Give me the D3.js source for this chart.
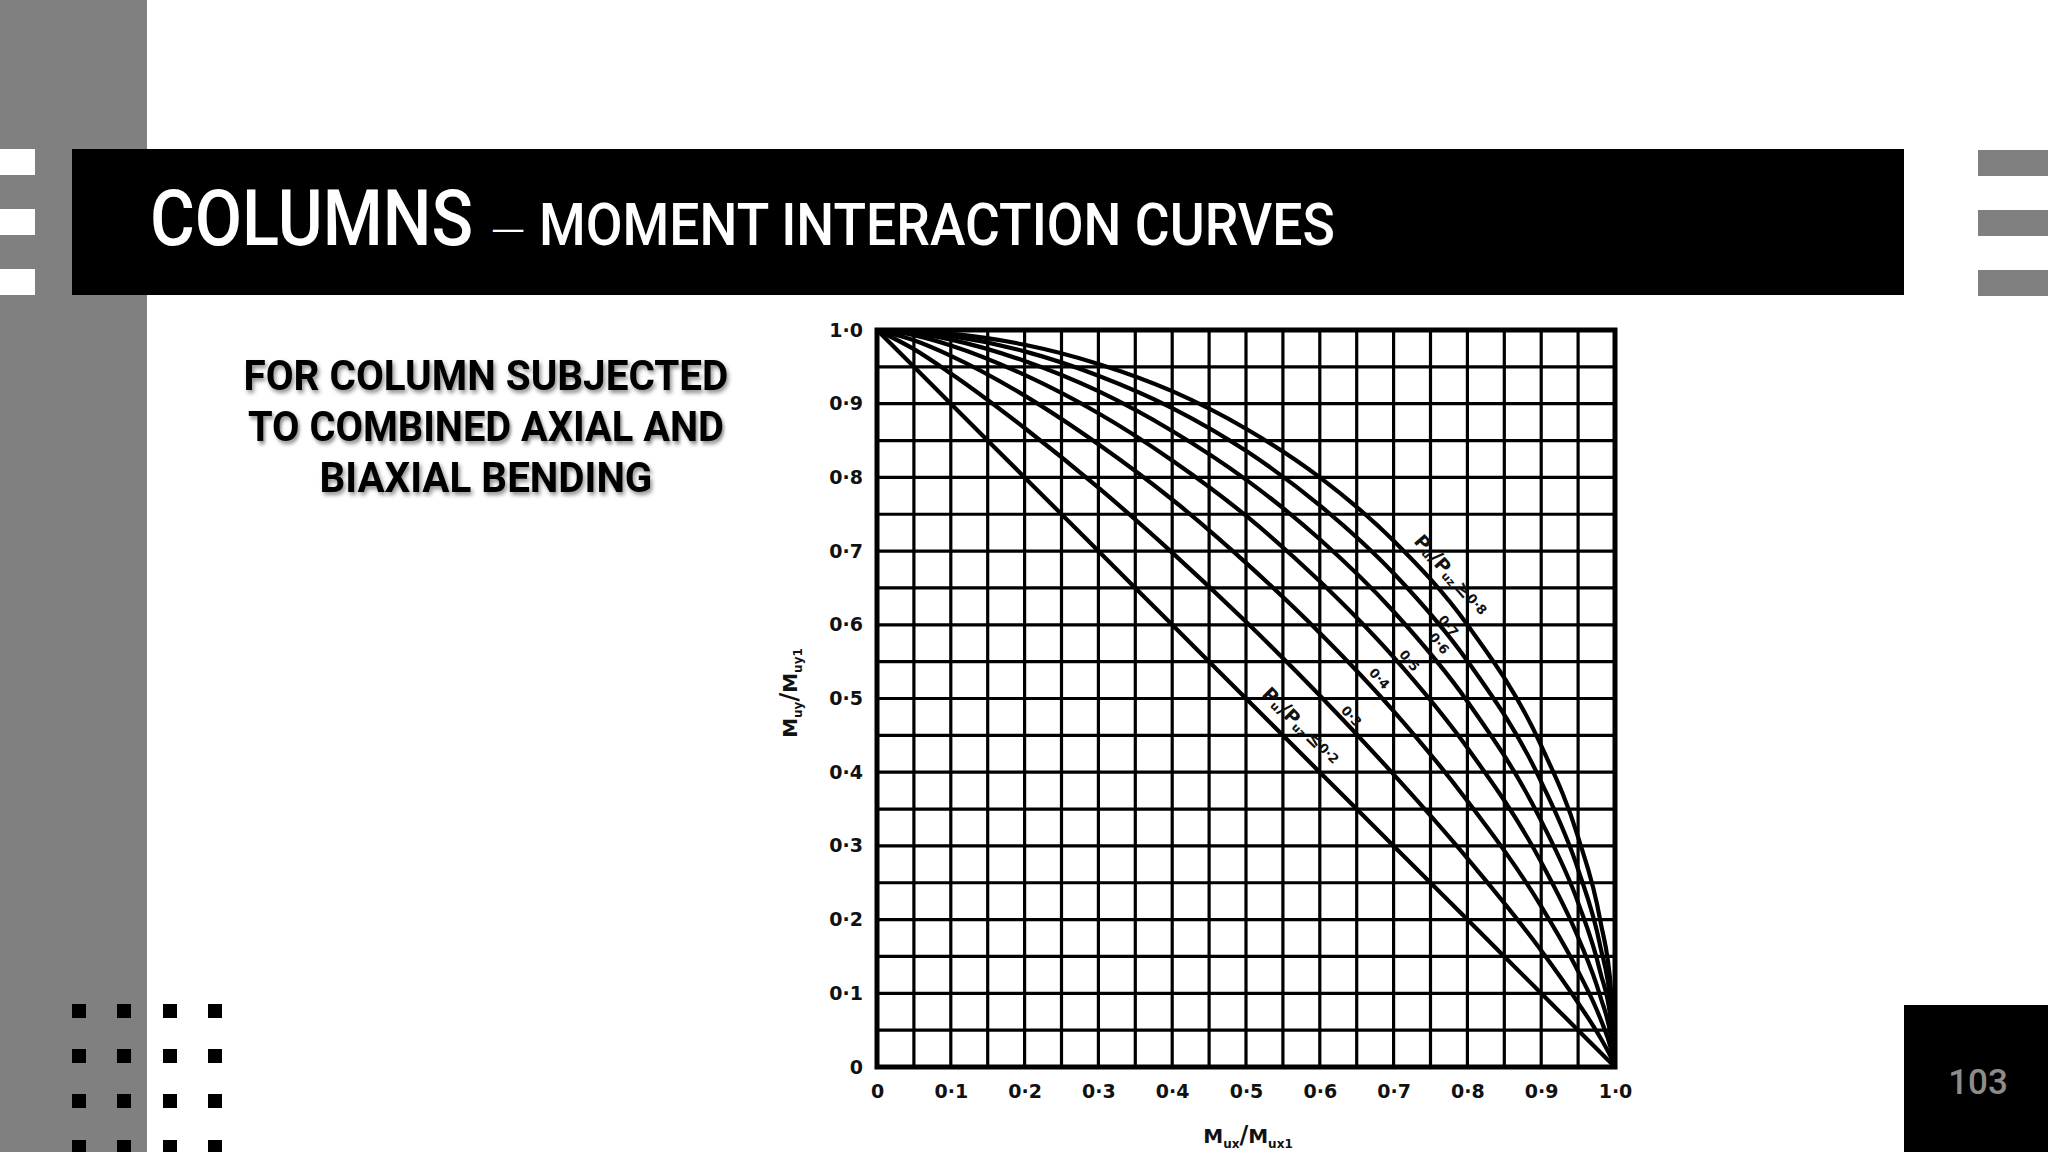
<!DOCTYPE html>
<html><head><meta charset="utf-8">
<script src="https://cdn.jsdelivr.net/npm/d3@7"></script>
<style>html,body{margin:0;padding:0;background:#fff;overflow:hidden}</style>
</head><body>
<svg id="c" width="2048" height="1152"></svg>
<script>
// ---------- data ----------
const tickValues = [0, 0.1, 0.2, 0.3, 0.4, 0.5, 0.6, 0.7, 0.8, 0.9, 1.0];
const xTickLabels = ["0", "0·1", "0·2", "0·3", "0·4", "0·5", "0·6", "0·7", "0·8", "0·9", "1·0"];
const yTickLabels = ["0", "0·1", "0·2", "0·3", "0·4", "0·5", "0·6", "0·7", "0·8", "0·9", "1·0"];
// Mux/Mux1 sample positions
const mxValues = [0, 0.05, 0.1, 0.2, 0.3, 0.4, 0.5, 0.6, 0.7, 0.8, 0.9, 0.95, 0.98, 0.995, 1];
// Muy/Muy1
const curveP02 = [1, 0.95, 0.9, 0.8, 0.7, 0.6, 0.5, 0.4, 0.3, 0.2, 0.1, 0.05, 0.02, 0.005, 0];
const curveP03 = [1, 0.974, 0.941, 0.867, 0.786, 0.698, 0.604, 0.504, 0.397, 0.283, 0.158, 0.087, 0.040, 0.012, 0];
const curveP04 = [1, 0.986, 0.965, 0.911, 0.845, 0.770, 0.684, 0.589, 0.483, 0.361, 0.218, 0.130, 0.066, 0.023, 0];
const curveP05 = [1, 0.993, 0.979, 0.939, 0.887, 0.823, 0.748, 0.659, 0.556, 0.433, 0.278, 0.176, 0.096, 0.038, 0];
const curveP06 = [1, 0.996, 0.987, 0.958, 0.917, 0.863, 0.797, 0.716, 0.618, 0.496, 0.334, 0.223, 0.129, 0.057, 0];
const curveP07 = [1, 0.998, 0.992, 0.971, 0.938, 0.894, 0.836, 0.762, 0.670, 0.551, 0.387, 0.268, 0.164, 0.077, 0];
const curveP08 = [1, 0.999, 0.995, 0.980, 0.954, 0.917, 0.866, 0.800, 0.714, 0.600, 0.436, 0.312, 0.199, 0.100, 0];
const curves = [curveP02, curveP03, curveP04, curveP05, curveP06, curveP07, curveP08];
const curveLabels = ["≤0·2", "0·3", "0·4", "0·5", "0·6", "0·7", "≥0·8"];
const labelAtMx = [0.556, 0.634, 0.669, 0.711, 0.746, 0.766, 0.757];

// ---------- styles / layout ----------
const labelOffset = [20, 9, 12, 10, 15, 8, 21];
const W = 2048, H = 1152;
const plot = {left: 877, right: 1615, top: 330, bottom: 1067};

const svg = d3.select("#c");
const defs = svg.append("defs");
const f = defs.append("filter").attr("id", "sh").attr("x", "-10%").attr("y", "-30%").attr("width", "130%").attr("height", "170%");
f.append("feDropShadow").attr("dx", 2).attr("dy", 3).attr("stdDeviation", 2)
  .attr("flood-color", "#000").attr("flood-opacity", 0.45);

svg.append("rect").attr("x", 0).attr("y", 0).attr("width", W).attr("height", H).attr("fill", "#fff");
// left grey band
svg.append("rect").attr("x", 0).attr("y", 0).attr("width", 147).attr("height", H).attr("fill", "#808080");
// title bar
svg.append("rect").attr("x", 72).attr("y", 149).attr("width", 1832).attr("height", 146).attr("fill", "#000");
// white tabs on left
[149, 209, 269].forEach(y => svg.append("rect").attr("x", 0).attr("y", y).attr("width", 35).attr("height", 26).attr("fill", "#fff"));
// grey tabs on right
[150, 210, 270].forEach(y => svg.append("rect").attr("x", 1978).attr("y", y).attr("width", 70).attr("height", 26).attr("fill", "#808080"));

// text fitted to a width by horizontal scaling
function fitText(str, opts) {
  const t = svg.append("text").attr("x", 0).attr("y", 0)
    .attr("font-family", opts.family).attr("font-weight", opts.weight)
    .attr("font-size", opts.size).attr("fill", opts.fill).text(str);
  if (opts.filter) t.attr("filter", opts.filter);
  const natural = t.node().getComputedTextLength();
  const s = opts.width / natural;
  const left = opts.anchor === "middle" ? opts.x - opts.width / 2 : opts.x;
  t.attr("transform", `translate(${left},${opts.y}) scale(${s},1)`);
  return t;
}

// title
fitText("COLUMNS", {family: "Roboto, sans-serif", weight: 500, size: 78, fill: "#fff", x: 150, y: 245, width: 323});
fitText("—", {family: "Roboto, sans-serif", weight: 300, size: 42, fill: "#fff", x: 490, y: 246, width: 36});
fitText("MOMENT INTERACTION CURVES", {family: "Roboto, sans-serif", weight: 500, size: 59, fill: "#fff", x: 539, y: 245, width: 796});

// left side text
const sideLines = ["FOR COLUMN SUBJECTED", "TO COMBINED AXIAL AND", "BIAXIAL BENDING"];
const sideLen = [485, 476, 333];
const sideY = [390, 441, 492];
sideLines.forEach((t, i) => {
  fitText(t, {family: "Roboto, sans-serif", weight: 700, size: 43, fill: "#000", x: 486, y: sideY[i],
    width: sideLen[i], anchor: "middle", filter: "url(#sh)"});
});

// dots
[79, 124, 170, 215].forEach(cx => [1011, 1056, 1101, 1147].forEach(cy =>
  svg.append("rect").attr("x", cx - 7).attr("y", cy - 7).attr("width", 14).attr("height", 14).attr("fill", "#000")));

// page number box
svg.append("rect").attr("x", 1904).attr("y", 1005).attr("width", 144).attr("height", 147).attr("fill", "#000");
svg.append("text").attr("x", 1978).attr("y", 1094).attr("text-anchor", "middle")
  .attr("font-family", "Roboto, sans-serif").attr("font-weight", 500).attr("font-size", 35)
  .attr("fill", "#8c8c8c").text("103");

// ---------- chart ----------
const x = d3.scaleLinear().domain([0, 1]).range([plot.left, plot.right]);
const y = d3.scaleLinear().domain([0, 1]).range([plot.bottom, plot.top]);
const g = svg.append("g");

// grid lines
g.selectAll("line.vx").data(x.ticks(20)).join("line")
  .attr("x1", d => x(d)).attr("x2", d => x(d)).attr("y1", plot.top).attr("y2", plot.bottom)
  .attr("stroke", "#000").attr("stroke-width", 3.2);
g.selectAll("line.hy").data(y.ticks(20)).join("line")
  .attr("y1", d => y(d)).attr("y2", d => y(d)).attr("x1", plot.left).attr("x2", plot.right)
  .attr("stroke", "#000").attr("stroke-width", 3.2);
g.append("rect").attr("x", plot.left).attr("y", plot.top)
  .attr("width", plot.right - plot.left).attr("height", plot.bottom - plot.top)
  .attr("fill", "none").attr("stroke", "#000").attr("stroke-width", 5);

// axes tick labels
const xAxis = d3.axisBottom(x).tickValues(tickValues).tickFormat((d, i) => xTickLabels[i]).tickSize(0).tickPadding(18);
const xa = g.append("g").attr("transform", `translate(0,${plot.bottom})`).call(xAxis);
const yAxis = d3.axisLeft(y).tickValues(tickValues).tickFormat((d, i) => yTickLabels[i]).tickSize(0).tickPadding(14);
const ya = g.append("g").attr("transform", `translate(${plot.left},0)`).call(yAxis);
[xa, ya].forEach(a => {
  a.select(".domain").remove();
  a.selectAll("text").attr("font-family", "'DejaVu Sans', 'Liberation Sans', sans-serif")
    .attr("font-weight", 700).attr("font-size", 19).attr("fill", "#111");
});

// curves
const line = d3.line().x((d, i) => x(mxValues[i])).y(d => y(d)).curve(d3.curveMonotoneX);
g.selectAll("path.curve").data(curves).join("path").attr("class", "curve")
  .attr("d", d => line(d)).attr("fill", "none").attr("stroke", "#000")
  .attr("stroke-width", 4.2).attr("stroke-linejoin", "round");

// curve labels
function interp(arr, xv) {
  for (let i = 1; i < mxValues.length; i++) {
    if (xv <= mxValues[i]) {
      const t = (xv - mxValues[i - 1]) / (mxValues[i] - mxValues[i - 1]);
      return arr[i - 1] + t * (arr[i] - arr[i - 1]);
    }
  }
  return arr[arr.length - 1];
}
curves.forEach((c, i) => {
  const xv = labelAtMx[i];
  const p0 = [x(xv - 0.02), y(interp(c, xv - 0.02))];
  const p1 = [x(xv + 0.02), y(interp(c, xv + 0.02))];
  const tx = p1[0] - p0[0], ty = p1[1] - p0[1];
  const len = Math.hypot(tx, ty);
  const nx = ty / len, ny = -tx / len;
  const px = x(xv) + nx * labelOffset[i], py = y(interp(c, xv)) + ny * labelOffset[i];
  const ang = Math.atan2(ty, tx) * 180 / Math.PI;
  const t = g.append("text").attr("transform", `translate(${px},${py}) rotate(${ang})`)
    .attr("text-anchor", "middle").attr("dominant-baseline", "central")
    .attr("font-family", "'DejaVu Sans', 'Liberation Sans', sans-serif").attr("font-weight", 700)
    .attr("font-size", 13).attr("fill", "#111");
  const lab = curveLabels[i];
  if (lab.startsWith("≤") || lab.startsWith("≥")) {
    t.attr("font-size", 19);
    t.append("tspan").text("P");
    t.append("tspan").attr("font-size", 11).attr("dy", 5).text("u");
    t.append("tspan").attr("font-size", 21).attr("dy", -5).attr("dx", 1).text("/");
    t.append("tspan").text("P");
    t.append("tspan").attr("font-size", 11).attr("dy", 5).text("uz");
    t.append("tspan").attr("dy", -5).attr("dx", 3).text(lab.slice(0, 1));
    t.append("tspan").attr("font-size", 13).text(lab.slice(1));
  } else {
    t.text(lab);
  }
});

// axis titles
const xt = g.append("text").attr("x", 1248).attr("y", 1143).attr("text-anchor", "middle")
  .attr("font-family", "'DejaVu Sans', 'Liberation Sans', sans-serif").attr("font-weight", 700)
  .attr("font-size", 20).attr("fill", "#111");
xt.append("tspan").text("M");
xt.append("tspan").attr("font-size", 12).attr("dy", 5).text("ux");
xt.append("tspan").attr("font-size", 24).attr("dy", -5).text("/");
xt.append("tspan").text("M");
xt.append("tspan").attr("font-size", 12).attr("dy", 5).text("ux1");

const yt = g.append("text").attr("transform", "translate(797,693) rotate(-90)").attr("text-anchor", "middle")
  .attr("font-family", "'DejaVu Sans', 'Liberation Sans', sans-serif").attr("font-weight", 700)
  .attr("font-size", 20).attr("fill", "#111");
yt.append("tspan").text("M");
yt.append("tspan").attr("font-size", 12).attr("dy", 5).text("uy");
yt.append("tspan").attr("font-size", 24).attr("dy", -5).text("/");
yt.append("tspan").text("M");
yt.append("tspan").attr("font-size", 12).attr("dy", 5).text("uy1");
</script>
</body></html>
